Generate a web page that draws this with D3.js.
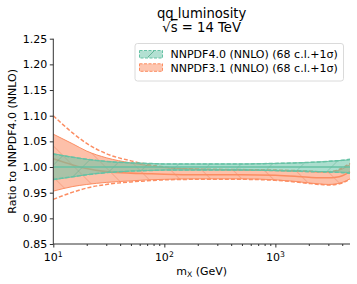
<!DOCTYPE html>
<html>
<head>
<script src="https://d3js.org/d3.v7.min.js"></script>
<style>
  body { margin: 0; background: #fff; }
  text { font-family: "DejaVu Sans", sans-serif; }
</style>
</head>
<body>
<div id="chart"></div>
<script>
// data
var mass = [10, 15, 20, 30, 50, 70, 100, 200, 500, 1000, 1500, 2000, 2500, 3000, 3500, 4000, 4700];

var nn40Central = [1, 1, 1, 1, 1, 1, 1, 1, 1, 1, 1, 1, 1, 1, 1, 1, 1];
var nn40Up68    = [1.026, 1.019, 1.015, 1.011, 1.008, 1.007, 1.006, 1.006, 1.006, 1.007, 1.008, 1.009, 1.010, 1.011, 1.012, 1.013, 1.014];
var nn40Lo68    = [0.975, 0.981, 0.985, 0.989, 0.992, 0.993, 0.994, 0.994, 0.994, 0.993, 0.992, 0.992, 0.991, 0.991, 0.990, 0.990, 0.989];
var nn40UpSig   = [1.025, 1.019, 1.015, 1.011, 1.008, 1.007, 1.006, 1.006, 1.006, 1.007, 1.008, 1.009, 1.010, 1.011, 1.012, 1.013, 1.015];
var nn40LoSig   = [0.976, 0.981, 0.985, 0.989, 0.992, 0.993, 0.994, 0.994, 0.994, 0.993, 0.992, 0.991, 0.991, 0.990, 0.990, 0.989, 0.988];

var nn31Central = [1.016, 1.004, 0.997, 0.991, 0.988, 0.987, 0.986, 0.985, 0.985, 0.984, 0.982, 0.980, 0.979, 0.979, 0.980, 0.983, 0.991];
var nn31Up68    = [1.064, 1.045, 1.031, 1.018, 1.008, 1.003, 0.999, 0.996, 0.994, 0.993, 0.992, 0.991, 0.990, 0.990, 0.992, 0.996, 1.005];
var nn31Lo68    = [0.953, 0.962, 0.966, 0.970, 0.973, 0.975, 0.976, 0.977, 0.977, 0.975, 0.972, 0.969, 0.967, 0.966, 0.967, 0.970, 0.977];
var nn31UpSig   = [1.100, 1.066, 1.046, 1.026, 1.012, 1.005, 1.000, 0.996, 0.995, 0.994, 0.993, 0.992, 0.991, 0.991, 0.993, 0.998, 1.007];
var nn31LoSig   = [0.937, 0.951, 0.959, 0.966, 0.971, 0.973, 0.975, 0.976, 0.976, 0.974, 0.971, 0.968, 0.966, 0.965, 0.966, 0.969, 0.976];

var yTicks = [0.85, 0.90, 0.95, 1.00, 1.05, 1.10, 1.15, 1.20, 1.25];
var xMajor = [10, 100, 1000];
var legendLabels = ["NNPDF4.0 (NNLO) (68 c.l.+1\u03c3)", "NNPDF3.1 (NNLO) (68 c.l.+1\u03c3)"];

var green = "#66c2a5", orange = "#fc8d62";

var W = 357, H = 284;
var x0 = 53.3, x1 = 350, y0 = 244, y1 = 38.7;
var fs = 11;

var svg = d3.select("#chart").append("svg")
    .attr("width", W).attr("height", H);

var x = d3.scaleLog().domain([10, 4700]).range([x0, x1]);
var y = d3.scaleLinear().domain([0.85, 1.25]).range([y0, y1]);

// hatch patterns
var defs = svg.append("defs");
function hatch(id, color, dir) {
  var p = defs.append("pattern")
      .attr("id", id)
      .attr("patternUnits", "userSpaceOnUse")
      .attr("width", 22).attr("height", 22)
      .attr("patternTransform", "rotate(" + dir + ")");
  p.append("line")
      .attr("x1", 0).attr("y1", 0).attr("x2", 0).attr("y2", 22)
      .attr("stroke", color).attr("stroke-width", 0.8);
}
hatch("hatchOrange", "#e8734a", -45);
hatch("hatchGreen", "#4fa888", 45);

var idx = d3.range(mass.length);

function band(up, lo) {
  return d3.area()
      .x(function(i) { return x(mass[i]); })
      .y0(function(i) { return y(lo[i]); })
      .y1(function(i) { return y(up[i]); })
      .curve(d3.curveMonotoneX)(idx);
}
function line(vals) {
  return d3.line()
      .x(function(i) { return x(mass[i]); })
      .y(function(i) { return y(vals[i]); })
      .curve(d3.curveMonotoneX)(idx);
}

var plot = svg.append("g");

function drawSeries(color, hatchId, central, up68, lo68, upSig, loSig) {
  plot.append("path").attr("d", band(up68, lo68))
      .attr("fill", color).attr("fill-opacity", 0.55);
  plot.append("path").attr("d", band(up68, lo68))
      .attr("fill", "url(#" + hatchId + ")").attr("opacity", 0.8);
  [up68, lo68].forEach(function(v) {
    plot.append("path").attr("d", line(v))
        .attr("fill", "none").attr("stroke", color).attr("stroke-width", 1);
  });
  [upSig, loSig].forEach(function(v) {
    plot.append("path").attr("d", line(v))
        .attr("fill", "none").attr("stroke", color)
        .attr("stroke-width", 1.5).attr("stroke-dasharray", "4,2");
  });
  plot.append("path").attr("d", line(central))
      .attr("fill", "none").attr("stroke", color).attr("stroke-width", 1.6);
}

drawSeries(orange, "hatchOrange", nn31Central, nn31Up68, nn31Lo68, nn31UpSig, nn31LoSig);
drawSeries(green, "hatchGreen", nn40Central, nn40Up68, nn40Lo68, nn40UpSig, nn40LoSig);

// axes
var yAxis = d3.axisLeft(y).tickValues(yTicks).tickFormat(d3.format(".2f"))
    .tickSize(3.5).tickPadding(2.5);
var gy = svg.append("g").attr("transform", "translate(" + x0 + ",0)").call(yAxis);

var minor = [];
[10, 100, 1000].forEach(function(d) {
  for (var k = 2; k <= 9; k++) if (d * k <= 4700) minor.push(d * k);
});
var gxm = svg.append("g").attr("transform", "translate(0," + y0 + ")")
    .call(d3.axisBottom(x).tickValues(minor).tickFormat("").tickSize(2));
gxm.select(".domain").remove();
var gx = svg.append("g").attr("transform", "translate(0," + y0 + ")")
    .call(d3.axisBottom(x).tickValues(xMajor).tickFormat("").tickSize(3.5));

[gy, gx, gxm].forEach(function(g) {
  g.select(".domain").attr("stroke", "#333").attr("stroke-width", 1);
  g.selectAll(".tick line").attr("stroke", "#333");
  g.selectAll("text").attr("font-size", fs).attr("fill", "#000")
      .attr("font-family", "DejaVu Sans");
});
gy.select(".domain").attr("d", "M0," + y0 + "V" + y1);
gx.select(".domain").attr("d", "M" + x0 + ",0H" + x1);

// x tick labels with superscript
xMajor.forEach(function(d) {
  var t = svg.append("text").attr("x", x(d)).attr("y", 261)
      .attr("text-anchor", "middle").attr("font-size", fs);
  t.append("tspan").text("10");
  t.append("tspan").attr("font-size", 7.7).attr("dy", -4.5).text(Math.round(Math.log10(d)));
});

// axis labels
var xl = svg.append("text").attr("x", (x0 + x1) / 2).attr("y", 274.5)
    .attr("text-anchor", "middle").attr("font-size", fs);
xl.append("tspan").text("m");
xl.append("tspan").attr("font-size", 7.7).attr("dy", 2).text("X");
xl.append("tspan").attr("dy", -2).text(" (GeV)");

svg.append("text")
    .attr("transform", "translate(16," + ((y0 + y1) / 2) + ") rotate(-90)")
    .attr("text-anchor", "middle").attr("font-size", fs)
    .text("Ratio to NNPDF4.0 (NNLO)");

// title
svg.append("text").attr("x", (x0 + x1) / 2).attr("y", 18)
    .attr("text-anchor", "middle").attr("font-size", 13.2).text("qq luminosity");
var t2 = svg.append("text").attr("x", (x0 + x1) / 2).attr("y", 32)
    .attr("text-anchor", "middle").attr("font-size", 13.2);
t2.append("tspan").text("\u221A");
t2.append("tspan").style("text-decoration", "overline").text("s");
t2.append("tspan").text(" = 14 TeV");

// legend
var lg = svg.append("g");
lg.append("rect").attr("x", 135).attr("y", 43.5).attr("width", 208.5).attr("height", 37.5)
    .attr("rx", 2.5).attr("fill", "#fff").attr("fill-opacity", 0.85)
    .attr("stroke", "#d0d0d0").attr("stroke-width", 0.8);
[[green, "hatchGreen"], [orange, "hatchOrange"]].forEach(function(c, i) {
  var yy = 50.5 + i * 13.3;
  lg.append("rect").attr("x", 139.5).attr("y", yy).attr("width", 23).attr("height", 7.5)
      .attr("fill", c[0]).attr("fill-opacity", 0.5)
      .attr("stroke", c[0]).attr("stroke-width", 1).attr("stroke-dasharray", "3,1.5");
  lg.append("text").attr("x", 170.5).attr("y", yy + 7.8)
      .attr("font-size", fs).text(legendLabels[i]);
});
lg.append("line").attr("x1", 148).attr("y1", 57).attr("x2", 154).attr("y2", 51)
    .attr("stroke", "#4fa888").attr("stroke-width", 0.8);
</script>
</body>
</html>
